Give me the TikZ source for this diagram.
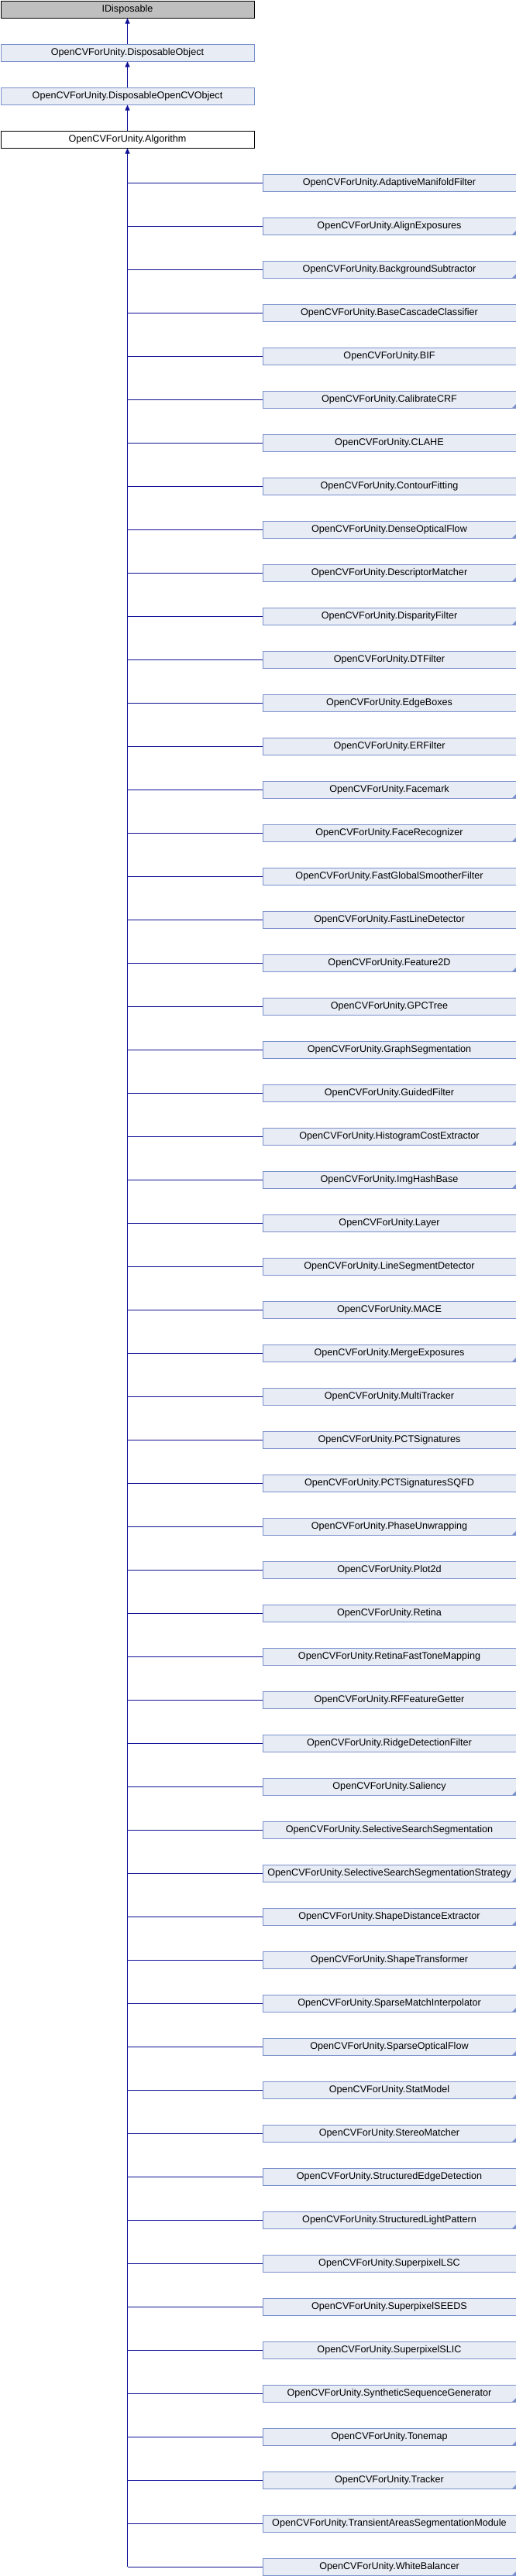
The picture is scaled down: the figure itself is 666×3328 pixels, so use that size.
\documentclass[tikz,border=0pt]{standalone}
\usepackage{fontspec}
\setmainfont{Liberation Sans}
\usetikzlibrary{arrows.meta}

\definecolor{klassefill}{RGB}{232,236,245}
\definecolor{klasserand}{RGB}{122,144,204}
\definecolor{kante}{RGB}{16,16,150}
\definecolor{extern}{RGB}{191,191,191}

\begin{document}
\begin{tikzpicture}[x=1pt,y=-1pt,
    klasse/.style={draw=klasserand,fill=klassefill,line width=1pt,minimum width=327pt,minimum height=22pt,
        inner sep=0pt,anchor=north west,text height=9.1pt,text depth=2.6pt,
        font=\fontsize{12.6}{14}\selectfont},
    kante/.style={draw=kante,line width=1pt},
    pfeil/.style={kante,-{Triangle[length=7pt,width=6pt]}}]
    \useasboundingbox (0,0) rectangle (666,3328);

    % Basisklassen zeichnen
    \node[klasse,draw=black,fill=extern] (idisp) at (0.5,0.5) {IDisposable};
    \node[klasse] (dobj) at (0.5,56.5) {OpenCVForUnity.DisposableObject};
    \node[klasse] (docv) at (0.5,112.5) {OpenCVForUnity.DisposableOpenCVObject};
    \node[klasse,draw=black,fill=white] (algo) at (0.5,168.5) {OpenCVForUnity.Algorithm};

    % Vererbungspfeile oben
    \draw[pfeil] (dobj) -- (idisp);
    \draw[pfeil] (docv) -- (dobj);
    \draw[pfeil] (algo) -- (docv);

    % Abgeleitete Klassen (1 = hat weitere Unterklassen)
    \foreach \name/\sub [count=\i from 0] in {AdaptiveManifoldFilter/0,AlignExposures/1,BackgroundSubtractor/1,
        BaseCascadeClassifier/0,BIF/0,CalibrateCRF/1,CLAHE/0,ContourFitting/0,DenseOpticalFlow/1,
        DescriptorMatcher/1,DisparityFilter/1,DTFilter/0,EdgeBoxes/0,ERFilter/0,Facemark/1,
        FaceRecognizer/1,FastGlobalSmootherFilter/0,FastLineDetector/0,Feature2D/1,GPCTree/0,
        GraphSegmentation/0,GuidedFilter/0,HistogramCostExtractor/1,ImgHashBase/1,Layer/0,
        LineSegmentDetector/0,MACE/0,MergeExposures/1,MultiTracker/0,PCTSignatures/0,
        PCTSignaturesSQFD/0,PhaseUnwrapping/1,Plot2d/0,Retina/0,RetinaFastToneMapping/0,
        RFFeatureGetter/0,RidgeDetectionFilter/0,Saliency/1,SelectiveSearchSegmentation/0,
        SelectiveSearchSegmentationStrategy/1,ShapeDistanceExtractor/1,ShapeTransformer/1,
        SparseMatchInterpolator/1,SparseOpticalFlow/1,StatModel/1,StereoMatcher/1,
        StructuredEdgeDetection/0,StructuredLightPattern/1,SuperpixelLSC/0,SuperpixelSEEDS/0,
        SuperpixelSLIC/0,SyntheticSequenceGenerator/1,Tonemap/1,Tracker/1,
        TransientAreasSegmentationModule/0,WhiteBalancer/1}
    {
        \node[klasse] (k\i) at (338.5,224.5+56*\i) {OpenCVForUnity.\name};
        \draw[kante] (k\i.west) -- (algo.south |- k\i.west); % Abzweig
        \ifnum\sub=1
            \fill[klasserand] ([xshift=-6pt]k\i.south east) -- (k\i.south east) -- ([yshift=6pt]k\i.south east) -- cycle;
        \fi
    }

    % Stamm zum Algorithm
    \draw[pfeil] (algo.south |- k55.west) -- (algo.south);
\end{tikzpicture}
\end{document}
